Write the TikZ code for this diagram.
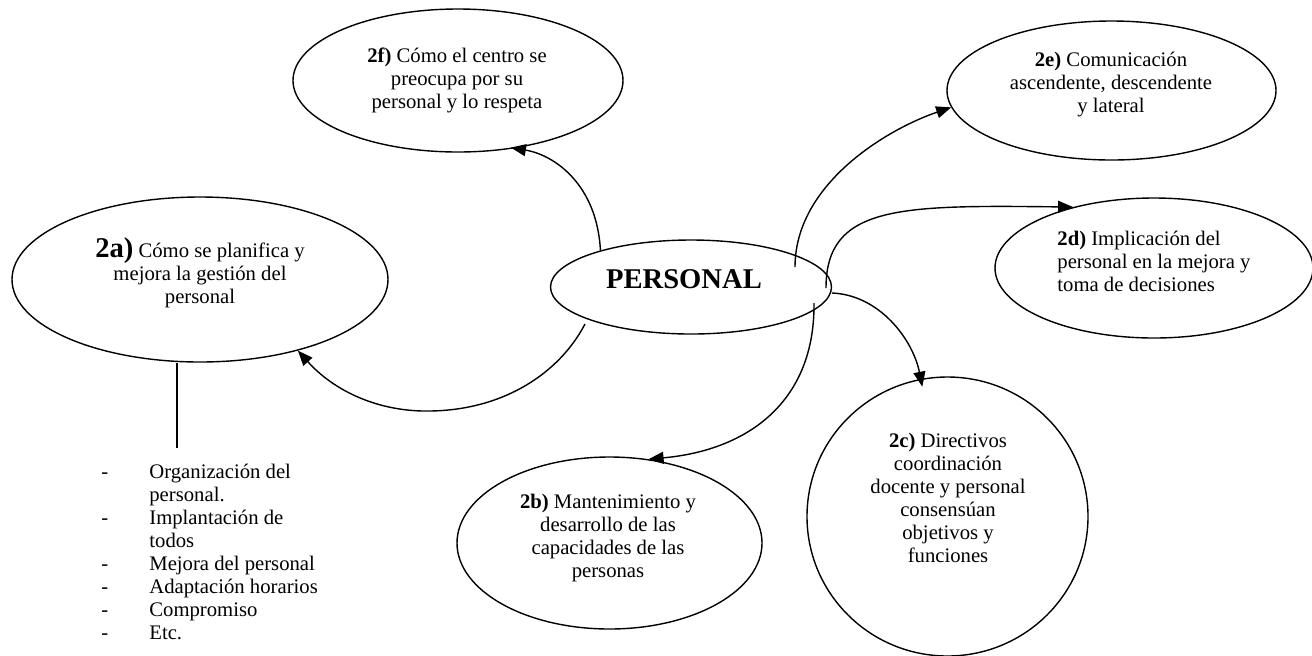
\documentclass[tikz,border=0pt]{standalone}
\usepackage{fontspec}
\setmainfont{Liberation Serif}
\usetikzlibrary{shapes.geometric,arrows.meta,calc}
\tikzset{
  bubble/.style={draw, ellipse, line width=0.7pt, inner sep=0pt},
  txt/.style={inner sep=0pt, align=center, font=\fontsize{10.35}{11.5}\selectfont},
  arr/.style={draw, line width=0.7pt, -{Triangle[length=7.5pt,width=6pt]}},
  plain/.style={draw, line width=0.7pt}
}
\begin{document}
\begin{tikzpicture}[x=0.5pt,y=-0.5pt]
\useasboundingbox (0,0) rectangle (1312,655);
% ellipses
\node[bubble, minimum width=165pt, minimum height=71.5pt] (e2f) at (458,80.5) {};
\node[bubble, minimum width=188pt, minimum height=82.5pt] (e2a) at (200,279.5) {};
\node[bubble, minimum width=140.5pt, minimum height=47pt] (P) at (691,287) {};
\node[bubble, minimum width=164.5pt, minimum height=69.5pt] (e2e) at (1111.5,90.5) {};
\node[bubble, minimum width=159pt, minimum height=70pt] (e2d) at (1154,268) {};
\node[bubble, minimum width=152.5pt, minimum height=86pt] (e2b) at (609.5,543) {};
\node[bubble, minimum width=140.5pt, minimum height=139.5pt] (e2c) at (947.5,516.5) {};
% texts
\node[txt] (t2f) at (457,80) {\textbf{2f)} Cómo el centro se\\preocupa por su\\personal y lo respeta};
\node[txt] (t2a) at (200,273) {{\fontsize{14.3}{11.5}\selectfont\textbf{2a)}} Cómo se planifica y\\mejora la gestión del\\personal};
\node[txt, font=\fontsize{14.3}{16}\selectfont\bfseries] (tP) at (684,279) {PERSONAL};
\node[txt] (t2e) at (1111,85) {\textbf{2e)} Comunicación\\ascendente, descendente\\y lateral};
\node[txt, align=left, anchor=north west] (t2d) at (1057,231) {\textbf{2d)} Implicación del\\personal en la mejora y\\toma de decisiones};
\node[txt] (t2c) at (948,498) {\textbf{2c)} Directivos\\coordinación\\docente y personal\\consensúan\\objetivos y\\funciones};
\node[txt] (t2b) at (608,538) {\textbf{2b)} Mantenimiento y\\desarrollo de las\\capacidades de las\\personas};
\node[txt, align=left, anchor=north west] (lst) at (101,464) {\makebox[24pt][l]{-}Organización del\\\hspace*{24pt}personal.\\\makebox[24pt][l]{-}Implantación de\\\hspace*{24pt}todos\\\makebox[24pt][l]{-}Mejora del personal\\\makebox[24pt][l]{-}Adaptación horarios\\\makebox[24pt][l]{-}Compromiso\\\makebox[24pt][l]{-}Etc.};
% line from 2a to list
\coordinate (lstTop) at (177,448);
\draw[plain] (e2a.south -| lstTop) -- (lstTop);
% arrows
\draw[arr, shorten >=-2pt] (P.158) .. controls (597,185) and (555,155) .. (e2f.-50);
\draw[arr] ($(P.center)+(-106,37)$) .. controls (560,372) and (505,410) .. (430,411)
   .. controls (380,412) and (335,392) .. (e2a.-36);
\draw[arr] ($(P.center)+(104,-20)$) .. controls (795,185) and (885,130) .. (e2e.186);
\draw[arr] ($(P.center)+(135,1)$) .. controls (826,205) and (900,205) .. (e2d.143);
\draw[arr, shorten >=-4pt] ($(P.center)+(141,6)$) .. controls (880,295) and (913,340) .. (e2c.101);
\draw[arr] ($(P.center)+(123,16)$) .. controls (815,400) and (750,450) .. (e2b.65);
\end{tikzpicture}
\end{document}
